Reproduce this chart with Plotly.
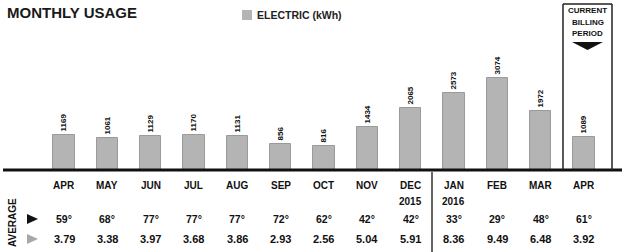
import plotly.graph_objects as go

months = ["APR", "MAY", "JUN", "JUL", "AUG", "SEP", "OCT", "NOV", "DEC", "JAN", "FEB", "MAR", "APR"]
years = ["", "", "", "", "", "", "", "", "2015", "2016", "", "", ""]
kwh = [1169, 1061, 1129, 1170, 1131, 856, 816, 1434, 2065, 2573, 3074, 1972, 1089]
avg_temp = [59, 68, 77, 77, 77, 72, 62, 42, 42, 33, 29, 48, 61]
daily_kwh = [3.79, 3.38, 3.97, 3.68, 3.86, 2.93, 2.56, 5.04, 5.91, 8.36, 9.49, 6.48, 3.92]

W, H = 622, 252
x0px, step = 64.0, 43.33
xmin = -x0px / step
xmax = (W - x0px) / step
idx = list(range(len(months)))

FONT = "Liberation Sans"
fig = go.Figure()
fig.add_trace(go.Bar(
    x=idx, y=kwh, width=0.49, name="ELECTRIC (kWh)",
    marker=dict(color="#b4b4b4", line=dict(color="#9a9a9a", width=1)),
    text=[str(v) for v in kwh], textposition="outside", textangle=-90,
    textfont=dict(family=FONT, size=8, color="#111", weight="bold"),
    cliponaxis=False, constraintext="none", showlegend=False, hoverinfo="skip",
))

def py(ypx):
    return 1 - ypx / H

def txt(s, x, y, size, xref="paper", xanchor="center", angle=0, color="#111"):
    return dict(text="<b>" + s + "</b>", x=x, y=py(y), xref=xref, yref="paper",
                xanchor=xanchor, yanchor="middle", textangle=angle, showarrow=False,
                font=dict(family=FONT, size=size, color=color))

ann = []
ann.append(txt("MONTHLY USAGE", 5 / W, 12, 15, xanchor="left", color="#1a1a1a"))
ann.append(txt("ELECTRIC (kWh)", 255 / W, 15, 10.5, xanchor="left", color="#222"))
for i, t in enumerate(["CURRENT", "BILLING", "PERIOD"]):
    ann.append(txt(t, 587.5 / W, 11 + 11.5 * i, 8))
for i in idx:
    ann.append(txt(months[i], i, 185, 10, xref="x"))
    if years[i]:
        ann.append(txt(years[i], i, 201, 10, xref="x"))
    ann.append(txt("%d°" % avg_temp[i], i, 219, 10.5, xref="x"))
    ann.append(txt("%.2f" % daily_kwh[i], i, 239, 11, xref="x"))
ann.append(txt("AVERAGE", 12 / W, 223, 10, angle=-90))

def P(x, y):
    return "%f,%f" % (x / W, py(y))

shapes = []
shapes.append(dict(type="rect", xref="paper", yref="paper", x0=242 / W, x1=252 / W,
                   y0=py(20), y1=py(10), fillcolor="#b4b4b4", line=dict(width=0)))
shapes.append(dict(type="line", xref="paper", yref="paper", x0=3 / W, x1=1, y0=py(170), y1=py(170),
                   line=dict(color="#111", width=3)))
for xp in (563, 612):
    shapes.append(dict(type="line", xref="paper", yref="paper", x0=xp / W, x1=xp / W,
                       y0=py(170), y1=py(4), line=dict(color="#222", width=1.5)))
shapes.append(dict(type="line", xref="paper", yref="paper", x0=563 / W, x1=612 / W,
                   y0=py(4), y1=py(4), line=dict(color="#222", width=1.5)))
shapes.append(dict(type="path", xref="paper", yref="paper",
                   path="M" + P(572, 42) + " L" + P(603, 42) + " L" + P(587.5, 50) + " Z",
                   fillcolor="#111", line=dict(width=0)))
shapes.append(dict(type="line", xref="paper", yref="paper", x0=432 / W, x1=432 / W,
                   y0=0, y1=py(172), line=dict(color="#333", width=1.5)))
shapes.append(dict(type="path", xref="paper", yref="paper",
                   path="M" + P(27, 214) + " L" + P(38, 219) + " L" + P(27, 224) + " Z",
                   fillcolor="#111", line=dict(width=0)))
shapes.append(dict(type="path", xref="paper", yref="paper",
                   path="M" + P(27, 234) + " L" + P(38, 239) + " L" + P(27, 244) + " Z",
                   fillcolor="#a8a8a8", line=dict(width=0)))

fig.update_layout(
    width=W, height=H, margin=dict(l=0, r=0, t=0, b=0, pad=0),
    paper_bgcolor="white", plot_bgcolor="white",
    xaxis=dict(range=[xmin, xmax], visible=False, fixedrange=True, domain=[0, 1]),
    yaxis=dict(range=[0, 5680], visible=False, fixedrange=True, domain=[py(170), 1]),
    annotations=ann, shapes=shapes, bargap=0,
)
fig.write_html("out.html", config={"displayModeBar": False},
               post_script="document.body.style.margin='0';document.body.style.overflow='hidden';")
